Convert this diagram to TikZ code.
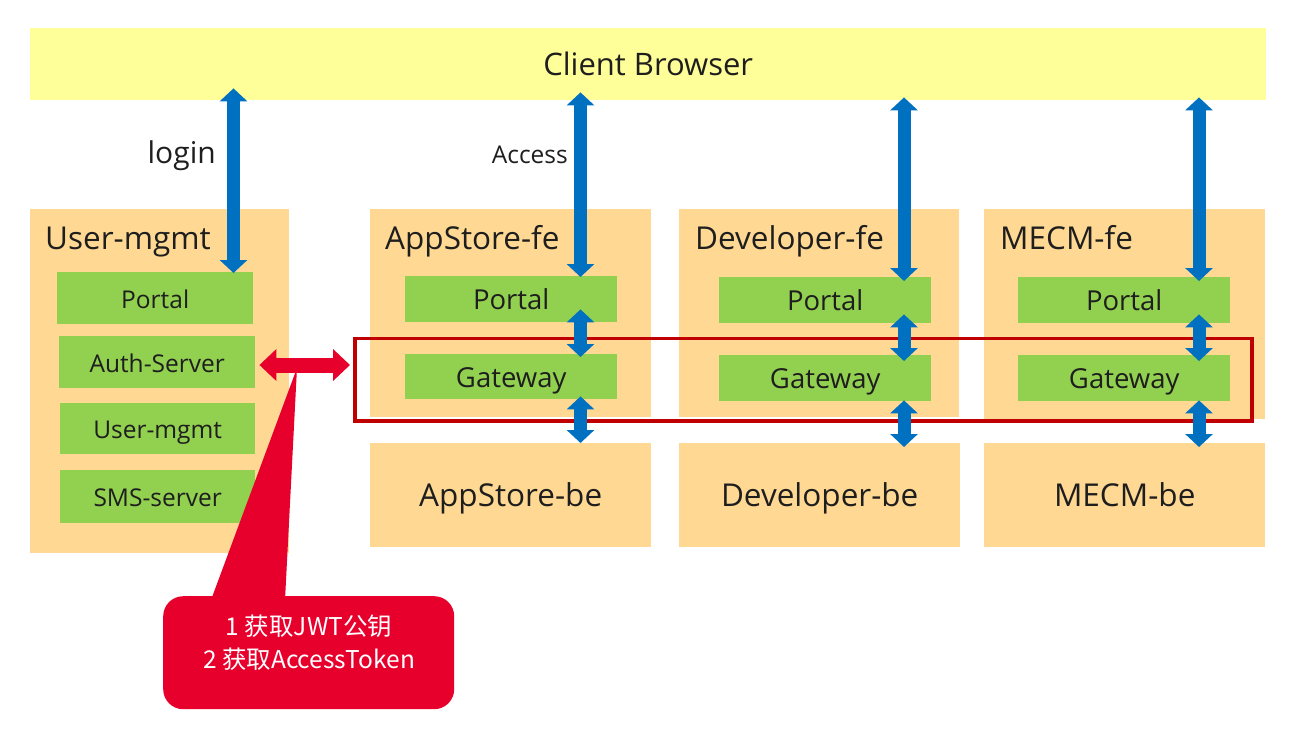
\documentclass[tikz,border=0pt]{standalone}
\usepackage{fontspec}
\setmainfont{Open Sans}
\newfontfamily\cjk{Noto Sans CJK SC}
\usetikzlibrary{arrows.meta}
\definecolor{cbyellow}{HTML}{FFFF99}
\definecolor{boxorange}{HTML}{FFD993}
\definecolor{boxgreen}{HTML}{92D050}
\definecolor{arrblue}{HTML}{0070C0}
\definecolor{callred}{HTML}{E8002D}
\definecolor{framered}{HTML}{C00000}
\definecolor{inkc}{HTML}{1E1E1E}
\newcommand{\fs}[1]{\fontsize{#1}{#1}\selectfont}
\begin{document}
\begin{tikzpicture}[x=1pt,y=-1pt,
  every node/.style={text=inkc},
  area/.style={fill=boxorange, draw=none, inner sep=0pt, anchor=north west, text depth=0pt},
  comp/.style={fill=boxgreen, draw=none, inner sep=0pt, anchor=north west, text depth=0pt},
  bigtext/.style={font=\fs{31.5}, text height=23pt},
  fetext/.style={font=\fs{27.5}, text height=21pt},
  umtext/.style={font=\fs{24.5}, text height=20pt},
  title/.style={anchor=base west, inner sep=0pt, font=\fs{31.5}},
  lbl/.style={anchor=base east, inner sep=0pt},
  cotext/.style={anchor=base, inner sep=0pt, text=white, font=\cjk\fs{24.5}},
  barrow/.style={draw=arrblue, line width=13pt, {Triangle[width=27pt,length=13pt]}-{Triangle[width=27pt,length=13pt]}},
  rarrow/.style={draw=callred, line width=15pt, {Triangle[width=31pt,length=17pt]}-{Triangle[width=31pt,length=17pt]}}
]
\useasboundingbox (0,0) rectangle (1301,734);

% client browser
\node[fill=cbyellow, inner sep=0pt, anchor=north west, minimum width=1236pt, minimum height=72pt, font=\fs{31}, text height=22pt, text depth=0pt] (browser) at (30,28) {Client Browser};

% column areas
\node[area, minimum width=259pt, minimum height=344pt] (um) at (30,209) {};
\node[area, minimum width=281pt, minimum height=208pt] (asfe) at (370,209) {};
\node[area, minimum width=280pt, minimum height=208pt] (dvfe) at (679,209) {};
\node[area, minimum width=281pt, minimum height=210pt] (mcfe) at (984,209) {};
\node[area, bigtext, minimum width=281pt, minimum height=104pt] (asbe) at (370,443) {AppStore-be};
\node[area, bigtext, minimum width=281pt, minimum height=104pt] (dvbe) at (679,443) {Developer-be};
\node[area, bigtext, minimum width=281pt, minimum height=104pt] (mcbe) at (984,443) {MECM-be};

% titles
\node[title] (umt) at (45,249) {User-mgmt};
\node[title] (asfet) at (385,249) {AppStore-fe};
\node[title] (dvfet) at (695,249) {Developer-fe};
\node[title] (mcfet) at (1000,249) {MECM-fe};

% user-mgmt components
\node[comp, umtext, minimum width=196pt, minimum height=52pt] (umportal) at (57,272) {Portal};
\node[comp, umtext, minimum width=196pt, minimum height=52pt] (auth) at (59,336) {Auth-Server};
\node[comp, umtext, minimum width=195pt, minimum height=51pt] (umsvc) at (60,403) {User-mgmt};
\node[comp, umtext, minimum width=195pt, minimum height=53pt] (sms) at (60,470) {SMS-server};

% fe components
\node[comp, fetext, minimum width=212pt, minimum height=46pt] (asportal) at (405,276) {Portal};
\node[comp, fetext, minimum width=212pt, minimum height=45pt] (asgw) at (405,354) {Gateway};
\node[comp, fetext, minimum width=212pt, minimum height=46pt] (dvportal) at (719,277) {Portal};
\node[comp, fetext, minimum width=212pt, minimum height=46pt] (dvgw) at (719,355) {Gateway};
\node[comp, fetext, minimum width=212pt, minimum height=46pt] (mcportal) at (1018,277) {Portal};
\node[comp, fetext, minimum width=212pt, minimum height=46pt] (mcgw) at (1018,355) {Gateway};

% gateway frame
\node[draw=framered, line width=3.5pt, inner sep=0pt, anchor=north west, minimum width=897pt, minimum height=82.5pt] (frame) at (353,336.5) {};

% labels
\node[lbl, font=\fs{30}] (login) at (216,163) {login};
\node[lbl, font=\fs{24.5}] (access) at (568,163) {Access};

% column x positions
\coordinate (lx) at (233.5,0);
\coordinate (ax) at (580.5,0);
\coordinate (dx) at (904,0);
\coordinate (mx) at (1199,0);
\coordinate (ry) at (0,365);

% blue arrows
\draw[barrow] ([yshift=12pt]browser.south -| lx) -- ([yshift=-1pt]umportal.north -| lx);
\draw[barrow] ([yshift=8pt]browser.south -| ax) -- ([yshift=-1pt]asportal.north -| ax);
\draw[barrow] ([yshift=3pt]browser.south -| dx) -- ([yshift=-4pt]dvportal.north -| dx);
\draw[barrow] ([yshift=3pt]browser.south -| mx) -- ([yshift=-4pt]mcportal.north -| mx);

\draw[barrow] ([yshift=13pt]asportal.south -| ax) -- ([yshift=-3pt]asgw.north -| ax);
\draw[barrow] ([yshift=9pt]dvportal.south -| dx) -- ([yshift=-6pt]dvgw.north -| dx);
\draw[barrow] ([yshift=9pt]mcportal.south -| mx) -- ([yshift=-6pt]mcgw.north -| mx);

\draw[barrow] ([yshift=3pt]asgw.south -| ax) -- (asbe.north -| ax);
\draw[barrow] ([yshift=1pt]dvgw.south -| dx) -- ([yshift=-4pt]dvbe.north -| dx);
\draw[barrow] ([yshift=1pt]mcgw.south -| mx) -- ([yshift=-4pt]mcbe.north -| mx);

% callout
\node[fill=callred, rounded corners=20pt, inner sep=0pt, anchor=north west, minimum width=291pt, minimum height=113pt] (callout) at (163,596) {};
\coordinate (tip) at (297,368);
\fill[callred] ([xshift=48pt,yshift=-4pt]callout.north west) -- (tip) -- ([xshift=122pt,yshift=-4pt]callout.north west) -- cycle;
\node[cotext] (co1) at (309,635) {1 获取JWT公钥};
\node[cotext] (co2) at (309,668) {2 获取AccessToken};

% red arrow
\draw[rarrow] ([xshift=4pt]auth.east |- ry) -- ([xshift=-3pt]frame.west |- ry);
\end{tikzpicture}
\end{document}
